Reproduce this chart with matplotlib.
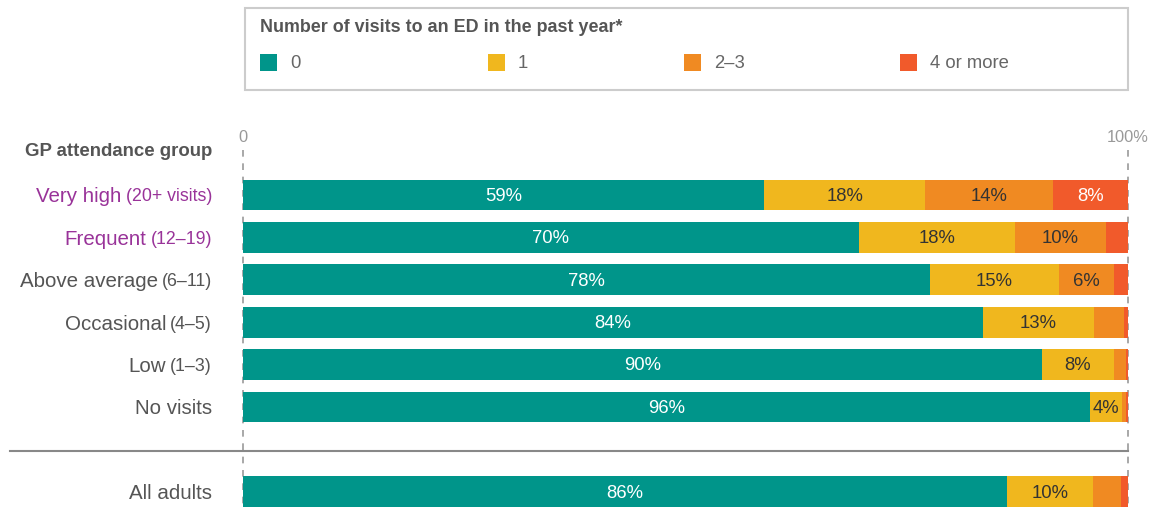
import matplotlib
matplotlib.use("Agg")
import matplotlib.pyplot as plt
from matplotlib.patches import Rectangle
from matplotlib.lines import Line2D

plt.rcParams['font.family'] = ['Liberation Sans', 'DejaVu Sans']

# Share of adults by number of ED visits in the past year (%)
groups = ["Very high", "Frequent", "Above average", "Occasional", "Low", "No visits", "All adults"]
group_ranges = ["(20+ visits)", "(12\u201319)", "(6\u201311)", "(4\u20135)", "(1\u20133)", "", ""]
visits_0 = [58.9, 69.6, 77.6, 83.6, 90.3, 95.7, 86.3]
visits_1 = [18.2, 17.6, 14.6, 12.6, 8.1, 3.6, 9.7]
visits_2_3 = [14.4, 10.3, 6.2, 3.3, 1.4, 0.5, 3.2]
visits_4plus = [8.5, 2.5, 1.6, 0.5, 0.2, 0.2, 0.8]
series_names = ["0", "1", "2\u20133", "4 or more"]
legend_title = "Number of visits to an ED in the past year*"
axis_title = "GP attendance group"
tick_labels = ["0", "100%"]

colors = ["#00958a", "#f0b71e", "#f08a22", "#f15a2b"]
label_colors = ["white", "#333333", "#333333", "white"]
highlight = "#993399"
text_grey = "#555555"

W, H = 1149, 509
fig = plt.figure(figsize=(W / 100, H / 100), dpi=100)

# bar area: x from 243px to 1128px, y from 150px to bottom
x0, x1 = 243, 1128
top_px = 150
step = 42.4
row0 = 195
ax = fig.add_axes([x0 / W, 0, (x1 - x0) / W, (H - top_px) / H])
ax.set_xlim(0, 100)
ax.set_ylim((H - row0) / step, -(row0 - top_px) / step)
ax.axis("off")

ypos = [0, 1, 2, 3, 4, 5, 7]
series = [visits_0, visits_1, visits_2_3, visits_4plus]

# dashed guide lines at 0 and 100
for xv in (0, 100):
    ax.plot([xv, xv], [ax.get_ylim()[1], ax.get_ylim()[0]], color="#999999",
            lw=1.2, ls=(0, (4, 4)), zorder=0, clip_on=False)

left = [0.0] * len(groups)
for vals, col, lcol in zip(series, colors, label_colors):
    ax.barh(ypos, vals, left=left, height=0.73, color=col, zorder=2)
    for y, l, v in zip(ypos, left, vals):
        if v >= 3.5:
            ax.text(l + v / 2, y + 0.03, f"{round(v)}%", ha="center", va="center",
                    fontsize=13.3, color=lcol, zorder=3)
    left = [a + b for a, b in zip(left, vals)]

# tick labels
fig.text(x0 / W, 1 - 138 / H, tick_labels[0], ha="center", va="center", fontsize=11.8, color="#999999")
fig.text(x1 / W, 1 - 138 / H, tick_labels[1], ha="center", va="center", fontsize=11.8, color="#999999")

# category labels: main name plus smaller range in brackets
fig.canvas.draw()
renderer = fig.canvas.get_renderer()
label_right = 212
for i, (g, r, y) in enumerate(zip(groups, group_ranges, ypos)):
    col = highlight if i < 2 else text_grey
    ypx = row0 + y * step + 2
    xr = label_right
    if r:
        t = fig.text(xr / W, 1 - ypx / H, r, ha="right", va="center", fontsize=12.8, color=col)
        bb = t.get_window_extent(renderer)
        xr = xr - bb.width - 4
    fig.text(xr / W, 1 - ypx / H, g, ha="right", va="center", fontsize=14.8, color=col)

fig.text(label_right / W, 1 - 152 / H, axis_title, ha="right", va="center",
         fontsize=13.4, fontweight="bold", color=text_grey)

# separator above the total row
fig.add_artist(Line2D([10 / W, x1 / W], [1 - 451 / H, 1 - 451 / H], color="#888888", lw=1.5))

# legend box
fig.add_artist(Rectangle((245 / W, 1 - 90 / H), (x1 - 245) / W, 82 / H, transform=fig.transFigure,
                         fill=False, edgecolor="#cccccc", lw=1.5))
fig.text(260 / W, 1 - 28 / H, legend_title, ha="left", va="center", fontsize=12.9,
         fontweight="bold", color=text_grey)
for name, col, xp in zip(series_names, colors, [260, 488, 684, 900]):
    fig.add_artist(Rectangle((xp / W, 1 - 71 / H), 17 / W, 17 / H, transform=fig.transFigure,
                             facecolor=col, edgecolor="none"))
    fig.text((xp + 30) / W, 1 - 63 / H, name, ha="left", va="center", fontsize=13.3, color="#666666")

fig.savefig("out.png", dpi=100)
